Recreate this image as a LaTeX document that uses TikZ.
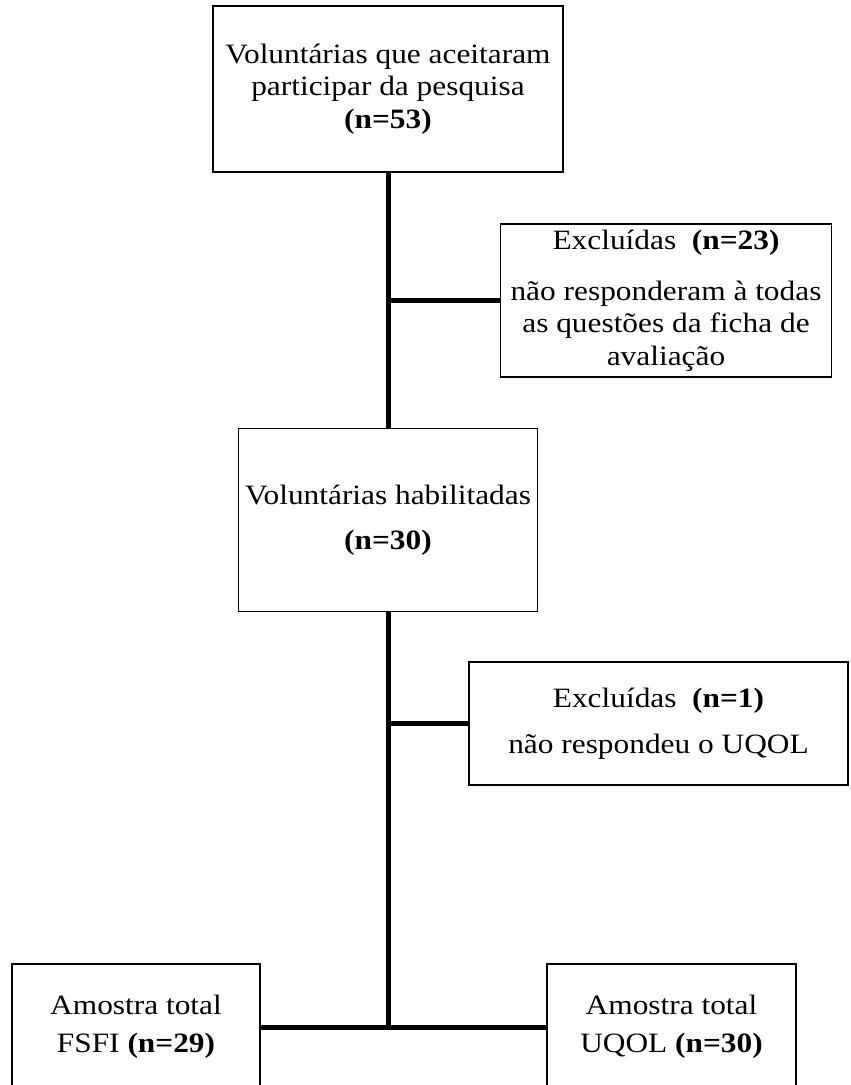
\documentclass[tikz,border=0pt]{standalone}
\usepackage{fontspec}
\setmainfont{Liberation Serif}[FakeStretch=1.12]

\begin{document}
\begin{tikzpicture}[x=1pt,y=-1pt,
        caixa/.style={draw,line width=1.5pt,align=center,inner sep=0pt,
            font=\fontsize{28}{32.5}\selectfont},
        linha/.style={line width=5pt}]
        \clip (0,0) rectangle (851,1085);
        \node[caixa,minimum width=350pt,minimum height=166pt] (vol) at (388,89)
            {Voluntárias que aceitaram\\participar da pesquisa\\\textbf{(n=53)}};
        \node[caixa,minimum width=331pt,minimum height=153pt] (exc1) at (666,300.5)
            {Excluídas~\ \textbf{(n=23)}\\[18pt]não responderam à todas\\as questões da ficha de\\avaliação};
        \node[caixa,minimum width=299pt,minimum height=183pt] (hab) at (388,520)
            {Voluntárias habilitadas\\[13pt]\textbf{(n=30)}};
        \node[caixa,minimum width=379pt,minimum height=123pt] (exc2) at (658.5,723.5)
            {Excluídas~\ \textbf{(n=1)}\\[13pt]não respondeu o UQOL};
        \node[caixa,minimum width=248pt,minimum height=126pt] (fsfi) at (136,1027)
            {Amostra total\\[5pt]FSFI \textbf{(n=29)}};
        \node[caixa,minimum width=249pt,minimum height=126pt] (uqol) at (671.5,1027)
            {Amostra total\\[5pt]UQOL \textbf{(n=30)}};
        \coordinate (r1) at (vol.south |- exc1.west);
        \coordinate (r2) at (vol.south |- exc2.west);
        \coordinate (r3) at (vol.south |- fsfi.east);
        \draw[linha] (vol.south) to (vol.south |- hab.north);
        \draw[linha] (r1) to (exc1.west);
        \draw[linha] (hab.south -| vol.south) to (r3);
        \draw[linha] (r2) to (exc2.west);
        \draw[linha] (fsfi.east) to (uqol.west);
    \end{tikzpicture}
\end{document}
